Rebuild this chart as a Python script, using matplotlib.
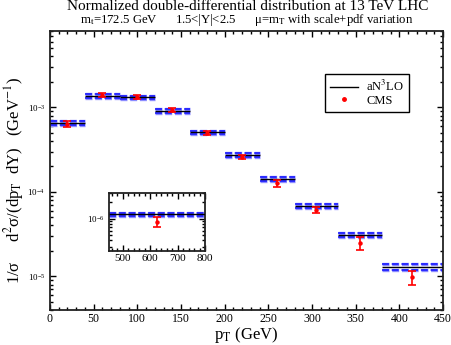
import matplotlib.pyplot as plt
from matplotlib.lines import Line2D
from matplotlib.ticker import MultipleLocator, NullFormatter

plt.rcParams['font.family'] = 'serif'
plt.rcParams['font.serif'] = ['Liberation Serif', 'DejaVu Serif']
plt.rcParams['mathtext.fontset'] = 'stix'
plt.rcParams['lines.scale_dashes'] = False

# pT bins (GeV) and aN3LO prediction with scale+pdf band
pt_edges = [0, 40, 80, 120, 160, 200, 240, 280, 330, 380, 500]
theory = [6.47e-4, 1.37e-3, 1.31e-3, 9.04e-4, 5.06e-4, 2.73e-4, 1.42e-4, 6.79e-5, 3.10e-5, 1.30e-5]
theory_hi = [6.80e-4, 1.44e-3, 1.38e-3, 9.50e-4, 5.30e-4, 2.87e-4, 1.49e-4, 7.10e-5, 3.25e-5, 1.40e-5]
theory_lo = [6.15e-4, 1.30e-3, 1.24e-3, 8.60e-4, 4.80e-4, 2.60e-4, 1.35e-4, 6.45e-5, 2.95e-5, 1.19e-5]

# CMS data
cms_pt = [20, 60, 100, 140, 180, 220, 260, 305, 355, 415]
cms_val = [6.40e-4, 1.39e-3, 1.33e-3, 9.30e-4, 5.00e-4, 2.56e-4, 1.27e-4, 6.05e-5, 2.50e-5, 9.80e-6]
cms_err = [5.0e-5, 7.5e-5, 7.0e-5, 6.0e-5, 3.0e-5, 1.4e-5, 1.2e-5, 5.0e-6, 4.5e-6, 1.9e-6]

# inset: high-pT bin
inset_edges = [450, 800]
inset_theory = [1.20e-6]
inset_hi = [1.29e-6]
inset_lo = [1.11e-6]
inset_cms_pt = [625]
inset_cms_val = [0.88e-6]
inset_cms_err = [0.18e-6]


def draw_bins(ax, edges, c, hi, lo, x, y, e):
    left, right = edges[:-1], edges[1:]
    for band in (hi, lo):
        ax.hlines(band, left, right, color='#8c8cff', lw=2.4, linestyles=(0, (5, 2)), zorder=2)
        ax.hlines(band, left, right, color='#1010ff', lw=1.1, linestyles=(0, (5, 2)), zorder=2)
    ax.hlines(c, left, right, color='k', lw=1.0, zorder=3)
    ax.errorbar(x, y, yerr=e, fmt='o', ms=2.2, color='red', ecolor='red',
                capsize=3, elinewidth=1.2, capthick=1.2, zorder=4)


def style_axis(ax, xsize, ysize):
    ax.tick_params(which='both', direction='in', top=True, right=True, width=1.0)
    ax.tick_params(which='major', length=4)
    ax.tick_params(which='minor', length=2.2)
    ax.tick_params(axis='x', labelsize=xsize, pad=2.5)
    ax.tick_params(axis='y', labelsize=ysize)
    ax.yaxis.set_minor_formatter(NullFormatter())
    for s in ax.spines.values():
        s.set_linewidth(1.3)
        s.set_color('#222222')


fig = plt.figure(figsize=(4.52, 3.45), dpi=100)
ax = fig.add_axes([50/452, 1 - 310/345, 393/452, 279/345])

draw_bins(ax, pt_edges, theory, theory_hi, theory_lo, cms_pt, cms_val, cms_err)
ax.set_yscale('log')
ax.set_xlim(0, 450)
ax.set_ylim(4e-6, 8e-3)
ax.xaxis.set_major_locator(MultipleLocator(50))
ax.xaxis.set_minor_locator(MultipleLocator(10))
style_axis(ax, 8.5, 6.5)

ax.set_xlabel('p$_\\mathrm{T}$ (GeV)', fontsize=12)
ax.xaxis.set_label_coords(0.5, -0.052)
ax.set_ylabel('1/σ     d$^2$σ/(dp$_\\mathrm{T}$  dY)   (GeV$^{-1}$)', fontsize=12)
ax.yaxis.set_label_coords(-0.062, 0.465)

handles = [Line2D([], [], color='k', lw=1.0),
           Line2D([], [], marker='o', ls='none', color='red', ms=2.5)]
leg = ax.legend(handles, ['aN$^3$LO', 'CMS'], loc='upper left',
                bbox_to_anchor=(0.70, 0.846), borderaxespad=0, fancybox=False,
                edgecolor='k', fontsize=9, handlelength=2.2, handletextpad=0.7,
                borderpad=0.4, labelspacing=0.05, framealpha=1)
leg.get_frame().set_linewidth(1.0)

# inset
axi = fig.add_axes([109/452, 1 - 251/345, 96/452, 58/345])
draw_bins(axi, inset_edges, inset_theory, inset_hi, inset_lo,
          inset_cms_pt, inset_cms_val, inset_cms_err)
axi.set_yscale('log')
axi.set_xlim(450, 800)
axi.set_ylim(2.5e-7, 3e-6)
axi.xaxis.set_major_locator(MultipleLocator(100))
axi.xaxis.set_minor_locator(MultipleLocator(20))
style_axis(axi, 8, 6.5)

fig.text(0.548, 1 - 0.5/345, 'Normalized double-differential distribution at 13 TeV LHC',
         ha='center', va='top', fontsize=11)
fig.text(0.546, 1 - 20/345,
         'm$_\\mathrm{t}$=172.5 GeV      1.5<|Y|<2.5      μ=m$_\\mathrm{T}$ with scale+pdf variation',
         ha='center', va='center', fontsize=9.2)

fig.savefig('out.png', dpi=100)
